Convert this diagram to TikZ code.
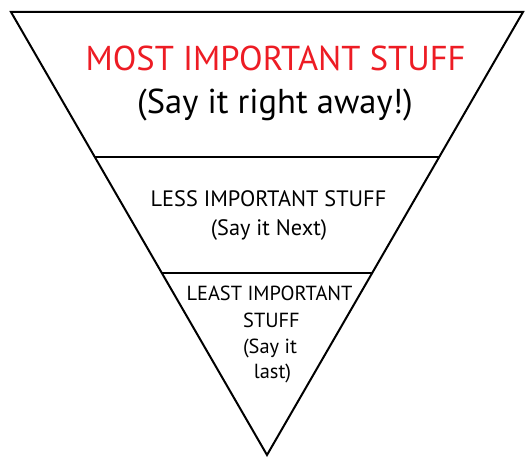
\documentclass[tikz,border=0pt]{standalone}
\usepackage{fontspec}
\setmainfont{PT Sans}
\definecolor{stuffred}{RGB}{237,28,36}
\begin{document}
\begin{tikzpicture}[x=1pt,y=-1pt,
    bigtext/.style={anchor=base,inner sep=0pt,font=\fontsize{34.5}{40}\selectfont},
    midtext/.style={anchor=base,inner sep=0pt,font=\fontsize{22.3}{26}\selectfont},
    smalltext/.style={anchor=base,inner sep=0pt,font=\fontsize{20.4}{26}\selectfont}]
    \useasboundingbox (0,0) rectangle (532,470);
    % funnel
    \draw[line width=2pt] (11,12) -- (523,12) -- (267,455) -- cycle;
    \draw[line width=1.5pt] (95,157) -- (439,157);
    \draw[line width=1.5pt] (162,273) -- (372,273);
    % top part
    \node[bigtext,stuffred] (most) at (275.5,71) {MOST IMPORTANT STUFF};
    \node[bigtext] (mostsay) at (275,114) {(Say it right away!)};
    % middle part
    \node[midtext] (less) at (268.5,207) {LESS IMPORTANT STUFF};
    \node[midtext] (lesssay) at (269,235) {(Say it Next)};
    % bottom part
    \node[smalltext] (least) at (269.5,300) {LEAST IMPORTANT};
    \node[smalltext] (leaststuff) at (271.5,327) {STUFF};
    \node[smalltext] (leastsay) at (270,353) {(Say it};
    \node[smalltext] (leastlast) at (272.5,378) {last)};
\end{tikzpicture}
\end{document}
